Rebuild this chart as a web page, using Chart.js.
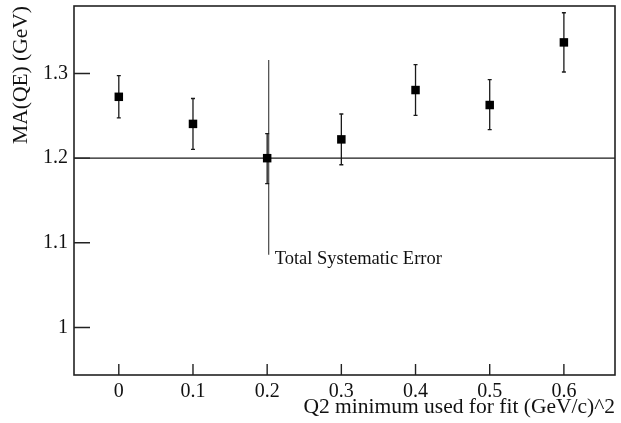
<!DOCTYPE html>
<html>
<head>
<meta charset="utf-8">
<script src="https://cdn.jsdelivr.net/npm/chart.js@4/dist/chart.umd.min.js"></script>
<style>
html,body{margin:0;padding:0;background:#fff;}
#wrap{width:621px;height:423px;position:relative;}
</style>
</head>
<body>
<div id="wrap"><canvas id="c"></canvas></div>
<script>
// ---- data ----
const q2Min   = [0, 0.1, 0.2, 0.3, 0.4, 0.5, 0.6];
const maQE    = [1.2725, 1.2405, 1.2000, 1.2222, 1.2805, 1.2628, 1.3368];
const errUp   = [0.025, 0.030, 0.029, 0.030, 0.030, 0.030, 0.035];
const errDown = [0.025, 0.030, 0.030, 0.030, 0.030, 0.029, 0.035];
const sysX    = [0.2];
const sysCenter = [1.2];
const sysUp   = [0.116];
const sysDown = [0.114];
const sysLabel = ['Total Systematic Error'];
const refLine = [1.2];
const xTicks  = [0, 0.1, 0.2, 0.3, 0.4, 0.5, 0.6];
const xTickLabels = ['0', '0.1', '0.2', '0.3', '0.4', '0.5', '0.6'];
const yTicks  = [1, 1.1, 1.2, 1.3];
const yTickLabels = ['1', '1.1', '1.2', '1.3'];
const xTitle = 'Q2 minimum used for fit (GeV/c)^2';
const yTitle = 'MA(QE) (GeV)';

const FONT = '"Liberation Serif", "Times New Roman", serif';
const INK = '#1a1a1a';

const points = q2Min.map((x, i) => ({x: x, y: maQE[i]}));

const decor = {
  id: 'decor',
  beforeDatasetsDraw(chart) {
    const ctx = chart.ctx, xs = chart.scales.x, ys = chart.scales.y, a = chart.chartArea;
    ctx.save();
    // reference line
    ctx.strokeStyle = INK; ctx.lineWidth = 1.3;
    refLine.forEach(v => {
      const py = ys.getPixelForValue(v);
      ctx.beginPath(); ctx.moveTo(a.left, py); ctx.lineTo(a.right, py); ctx.stroke();
    });
    // systematic error line
    ctx.strokeStyle = '#555'; ctx.lineWidth = 1.3;
    sysX.forEach((sx, i) => {
      const px = xs.getPixelForValue(sx) + 1.5;
      const top = ys.getPixelForValue(sysCenter[i] + sysUp[i]);
      const bot = ys.getPixelForValue(sysCenter[i] - sysDown[i]);
      ctx.beginPath(); ctx.moveTo(px, top); ctx.lineTo(px, bot); ctx.stroke();
      ctx.fillStyle = '#111';
      ctx.font = '18.5px ' + FONT;
      ctx.textAlign = 'left'; ctx.textBaseline = 'alphabetic';
      ctx.fillText(sysLabel[i], px + 6, bot + 9.5);
    });
    // statistical error bars
    ctx.strokeStyle = INK; ctx.lineWidth = 1.3;
    q2Min.forEach((x, i) => {
      const px = xs.getPixelForValue(x);
      const t = ys.getPixelForValue(maQE[i] + errUp[i]);
      const b = ys.getPixelForValue(maQE[i] - errDown[i]);
      ctx.beginPath();
      ctx.moveTo(px, t); ctx.lineTo(px, b);
      ctx.moveTo(px - 2, t); ctx.lineTo(px + 2, t);
      ctx.moveTo(px - 2, b); ctx.lineTo(px + 2, b);
      ctx.stroke();
    });
    ctx.restore();
  },
  afterDraw(chart) {
    const ctx = chart.ctx, xs = chart.scales.x, ys = chart.scales.y, a = chart.chartArea;
    ctx.save();
    ctx.strokeStyle = '#222'; ctx.lineWidth = 1.6;
    ctx.strokeRect(a.left, a.top, a.right - a.left, a.bottom - a.top);
    ctx.lineWidth = 1.4;
    ctx.beginPath();
    yTicks.forEach(v => {
      const py = ys.getPixelForValue(v);
      ctx.moveTo(a.left, py); ctx.lineTo(a.left + 16, py);
    });
    xTicks.forEach(v => {
      const px = xs.getPixelForValue(v);
      ctx.moveTo(px, a.bottom); ctx.lineTo(px, a.bottom - 11);
    });
    ctx.stroke();
    ctx.restore();
  }
};

new Chart(document.getElementById('c'), {
  type: 'scatter',
  data: {
    datasets: [{
      label: yTitle,
      data: points,
      pointStyle: 'rect',
      pointRadius: 6,
      pointHoverRadius: 6,
      pointBackgroundColor: '#000',
      pointBorderWidth: 0,
      showLine: false
    }]
  },
  options: {
    responsive: true,
    maintainAspectRatio: false,
    animation: false,
    devicePixelRatio: 1,
    layout: {padding: {top: 5, right: 2, bottom: 0, left: 0}},
    plugins: {legend: {display: false}, tooltip: {enabled: false}},
    scales: {
      x: {
        type: 'linear',
        min: -0.0604, max: 0.6689,
        grid: {display: false, drawTicks: false, tickLength: 0},
        border: {display: false},
        afterBuildTicks(s) { s.ticks = xTicks.map(v => ({value: v})); },
        afterFit(s) { s.height = 48; s.paddingLeft = 0; s.paddingRight = 0; },
        ticks: {
          color: '#111', padding: 5, maxRotation: 0, autoSkip: false,
          font: {family: FONT, size: 20},
          callback: (v) => { const i = xTicks.findIndex(t => Math.abs(t - v) < 1e-9); return i >= 0 ? xTickLabels[i] : ''; }
        },
        title: {
          display: true, text: xTitle, align: 'end', color: '#111',
          font: {family: FONT, size: 21.5}, padding: {top: 0, bottom: 3}
        }
      },
      y: {
        type: 'linear',
        min: 0.9438, max: 1.3798,
        grid: {display: false, drawTicks: false, tickLength: 0},
        border: {display: false},
        afterBuildTicks(s) { s.ticks = yTicks.map(v => ({value: v})); },
        afterFit(s) { s.width = 74; s.paddingTop = 0; s.paddingBottom = 0; },
        ticks: {
          color: '#111', padding: 6, autoSkip: false,
          font: {family: FONT, size: 20},
          callback: (v) => { const i = yTicks.findIndex(t => Math.abs(t - v) < 1e-9); return i >= 0 ? yTickLabels[i] : ''; }
        },
        title: {
          display: true, text: yTitle, align: 'end', color: '#111',
          font: {family: FONT, size: 21.5}, padding: {top: 8, bottom: 0}
        }
      }
    }
  },
  plugins: [decor]
});
</script>
</body>
</html>
